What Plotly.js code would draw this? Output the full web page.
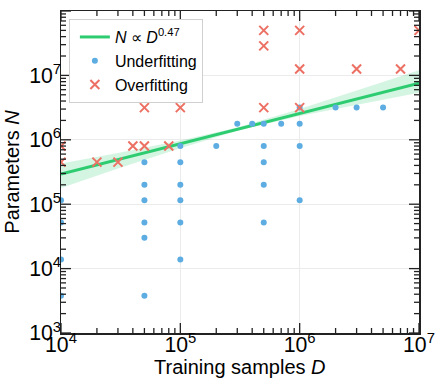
<!DOCTYPE html>
<html>
<head>
<meta charset="utf-8">
<script src="https://cdn.plot.ly/plotly-3.0.1.min.js"></script>
<style>
  html, body { margin: 0; padding: 0; background: #fff; }
  #chart { width: 438px; height: 385px; }
</style>
</head>
<body>
<div id="chart"></div>
<script>
/* ==========================================
   DATA
========================================== */

// underfitting runs
const underD = [
  1e4, 1e4, 1e4, 1e4,
  5e4, 5e4, 5e4, 5e4, 5e4, 5e4,
  1e5, 1e5, 1e5, 1e5, 1e5, 1e5,
  2e5, 3e5, 4e5,
  5e5, 5e5, 5e5, 5e5, 5e5,
  7e5,
  1e6, 1e6, 1e6, 1e6,
  2e6, 3e6, 5e6
];
const underN = [
  3.8e3, 1.38e4, 5.2e4, 1.15e5,
  3.8e3, 3.0e4, 5.2e4, 1.15e5, 2.0e5, 4.5e5,
  1.38e4, 5.2e4, 1.15e5, 2.0e5, 4.5e5, 8.0e5,
  8.0e5, 1.77e6, 1.77e6,
  5.2e4, 2.0e5, 4.5e5, 8.0e5, 1.77e6,
  1.77e6,
  1.15e5, 8.0e5, 1.77e6, 3.16e6,
  3.16e6, 3.16e6, 3.16e6
];

// overfitting runs
const overD = [
  1e4, 1e4, 2e4, 3e4, 4e4, 5e4, 5e4, 8e4, 1e5,
  5e5, 5e5, 5e5,
  1e6, 1e6, 1e6,
  3e6, 7e6, 1e7
];
const overN = [
  4.5e5, 8.0e5, 4.5e5, 4.5e5, 8.0e5, 8.0e5, 3.16e6, 8.0e5, 3.16e6,
  3.16e6, 2.87e7, 5.0e7,
  3.16e6, 1.26e7, 5.0e7,
  1.26e7, 1.26e7, 5.0e7
];

// fitted power law N ~ D^0.47 (end points)
const fitD = [1e4, 1e7];
const fitN = [2.95e5, 7.6e6];

// confidence band around the fit
const bandD = [1e4, 3e4, 1e5, 3e5, 1e6, 3e6, 1e7];
const bandUpper = [4.27e5, 6.22e5, 9.77e5, 1.55e6, 3.02e6, 5.81e6, 1.20e7];
const bandLower = [1.78e5, 3.58e5, 7.41e5, 1.38e6, 2.34e6, 3.50e6, 5.37e6];

// axis ranges (log10)
const xRange = [4, 7];
const yRange = [3, 8];


/* ==========================================
   STYLE
========================================== */

const FONT = "Liberation Sans, Arial, Helvetica, sans-serif";
const GREEN = "#2ecc71";
const BLUE = "#5dade2";
const RED = "#ec7063";
const AXIS = "#222222";

const W = 438, H = 385;
const MARGIN = { l: 61, r: 19, t: 11, b: 52 };
const PLOT_W = W - MARGIN.l - MARGIN.r;
const PLOT_H = H - MARGIN.t - MARGIN.b;

// major axes: decades, labels, grid
function axisStyle(range, standoff){

    return {
        type: "log",
        range: range,
        dtick: 1,
        exponentformat: "power",
        showexponent: "all",
        showline: true,
        linecolor: AXIS,
        linewidth: 1.5,
        mirror: true,
        ticks: "",
        ticklabelstandoff: standoff,
        showgrid: true,
        gridcolor: "#ebebeb",
        gridwidth: 1,
        zeroline: false,
        tickfont: { family: FONT, size: 17, color: "#000" }
    };

}


/* ==========================================
   TICK MARKS (inside, on all four sides)
========================================== */

function tickShapes(){

    let shapes = [];

    const tick = (x0, y0, x1, y1)=>{

        shapes.push({
            type: "line",
            xref: "paper",
            yref: "paper",
            x0: x0, y0: y0, x1: x1, y1: y1,
            line: { color: AXIS, width: 1.3 },
            layer: "above"
        });

    };

    // x axis: bottom and top
    for(let e = xRange[0]; e <= xRange[1]; e++){

        for(let k = 1; k <= 9; k++){

            const p = (e + Math.log10(k) - xRange[0]) / (xRange[1] - xRange[0]);

            if(p > 1.0001) break;

            const len = (k === 1 ? 10 : 5) / PLOT_H;

            tick(p, 0, p, len);

            tick(p, 1, p, 1 - len);

        }

    }

    // y axis: left and right
    for(let e = yRange[0]; e <= yRange[1]; e++){

        for(let k = 1; k <= 9; k++){

            const p = (e + Math.log10(k) - yRange[0]) / (yRange[1] - yRange[0]);

            if(p > 1.0001) break;

            const len = (k === 1 ? 10 : 5) / PLOT_W;

            tick(0, p, len, p);

            tick(1, p, 1 - len, p);

        }

    }

    return shapes;

}


/* ==========================================
   DRAW
========================================== */

function drawChart(){

    const traces = [
        {
            x: bandD,
            y: bandLower,
            mode: "lines",
            line: { width: 0, color: "rgba(0,0,0,0)" },
            hoverinfo: "skip",
            showlegend: false
        },
        {
            x: bandD,
            y: bandUpper,
            mode: "lines",
            fill: "tonexty",
            fillcolor: "rgba(46,204,113,0.2)",
            line: { width: 0, color: "rgba(0,0,0,0)" },
            hoverinfo: "skip",
            showlegend: false
        },
        {
            x: fitD,
            y: fitN,
            mode: "lines",
            line: { color: GREEN, width: 3 },
            name: "<i>N</i> ∝ <i>D</i><sup>0.47</sup>"
        },
        {
            x: underD,
            y: underN,
            mode: "markers",
            marker: { color: BLUE, size: 6 },
            name: "Underfitting"
        },
        {
            x: overD,
            y: overN,
            mode: "markers",
            marker: {
                symbol: "x-thin",
                size: 9,
                color: RED,
                line: { color: RED, width: 2 }
            },
            name: "Overfitting"
        }
    ];

    const yaxis = axisStyle(yRange, -5);
    yaxis.title = {
        text: "Parameters <i>N</i>",
        font: { family: FONT, size: 20, color: "#000" },
        standoff: 4
    };

    Plotly.newPlot(
        "chart",
        traces,
        {
            width: W,
            height: H,
            margin: MARGIN,
            paper_bgcolor: "#fff",
            plot_bgcolor: "#fff",
            font: { family: FONT, color: "#000" },
            xaxis: axisStyle(xRange, -7),
            yaxis: yaxis,
            shapes: tickShapes(),
            annotations: [
                {
                    // x axis title
                    text: "Training samples <i>D</i>",
                    xref: "paper",
                    yref: "paper",
                    x: 0.5,
                    y: -0.066,
                    xanchor: "center",
                    yanchor: "top",
                    showarrow: false,
                    font: { family: FONT, size: 20, color: "#000" }
                }
            ],
            showlegend: true,
            legend: {
                x: 0.022,
                y: 0.975,
                xanchor: "left",
                yanchor: "top",
                traceorder: "normal",
                indentation: 5,
                bgcolor: "#fff",
                bordercolor: "#d0d0d0",
                borderwidth: 1,
                font: { family: FONT, size: 16, color: "#000" }
            }
        },
        { staticPlot: true }
    );

}

drawChart();
</script>
</body>
</html>
